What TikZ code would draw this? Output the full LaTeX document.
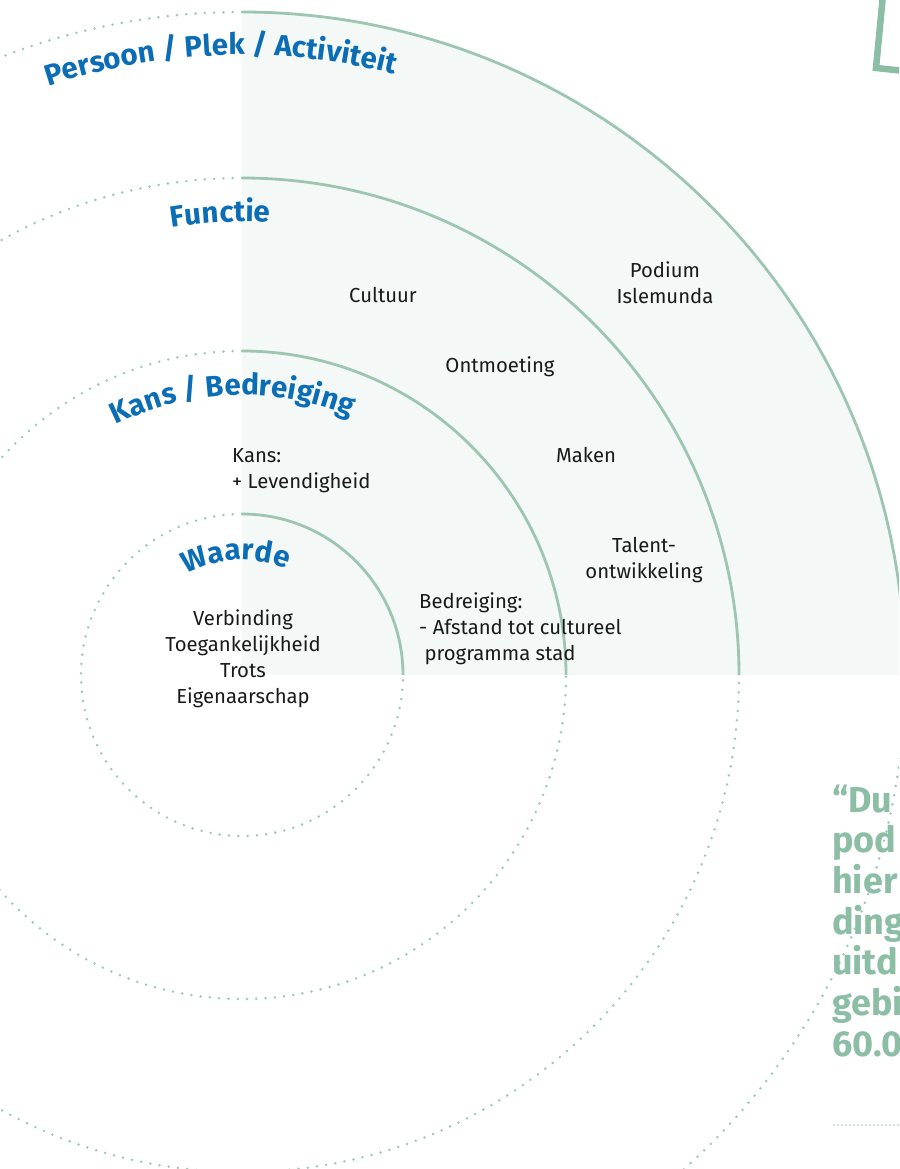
\documentclass[tikz,border=0pt]{standalone}
\usepackage{fontspec}
\setmainfont{Fira Sans}
\usetikzlibrary{decorations.text}
\definecolor{ringfill}{HTML}{F4F8F6}
\definecolor{ringline}{HTML}{9DC6B2}
\definecolor{dotc}{HTML}{9FC8B4}
\definecolor{lblblue}{HTML}{0A6DB6}
\definecolor{quotegreen}{HTML}{8CBEA5}
\definecolor{bodyc}{HTML}{1A1A1A}
\newcommand{\lblfont}{\fontsize{29.5}{32}\selectfont\bfseries\color{lblblue}}
\begin{document}
\begin{tikzpicture}[x=1pt,y=1pt,
  ringarc/.style={draw=ringline,line width=2.8pt},
  ringdots/.style={draw=dotc,line width=2.8pt,line cap=round,dash pattern=on 0pt off 9.3pt},
  bodytxt/.style={inner sep=0pt,text=bodyc,font=\fontsize{20.3}{26}\selectfont},
  quotetxt/.style={inner sep=0pt,text=quotegreen,font=\fontsize{36}{40.7}\selectfont\bfseries,anchor=base west},
  curvelbl/.style={decorate,decoration={text along path,text align=center,text={#1}}}
]
\useasboundingbox (0,0) rectangle (899,-1169);
\clip (0,0) rectangle (899,-1169);
\coordinate (C) at (242,-675);

% filled quarter disk
\fill[ringfill] (C) -- ++(663,0) arc[start angle=0,end angle=90,radius=663] -- cycle;

% dotted remainder of circles
\foreach \r in {161,324,497,663}{
  \path[ringdots] ([shift={(90:\r)}]C) arc[start angle=90,end angle=360,radius=\r];
}
% solid quarter arcs
\foreach \r in {161,324,497,663}{
  \path[ringarc] ([shift={(0:\r)}]C) arc[start angle=0,end angle=90,radius=\r];
}

% curved labels
\path[curvelbl={|\lblfont|Persoon / Plek / Activiteit}] ([shift={(152:620)}]C) arc[start angle=152,end angle=32,radius=620];
\path[curvelbl={|\lblfont|Functie}] ([shift={(152.7:453)}]C) arc[start angle=152.7,end angle=32.7,radius=453];
\path[curvelbl={|\lblfont|Kans / Bedreiging}] ([shift={(152:280)}]C) arc[start angle=152,end angle=32,radius=280];
\path[curvelbl={|\lblfont|Waarde}] ([shift={(153:115)}]C) arc[start angle=153,end angle=33,radius=115];

% body texts
\node[bodytxt] (cultuur) at (383,-295) {Cultuur};
\node[bodytxt,align=center] (podium) at (665,-283) {Podium\\Islemunda};
\node[bodytxt] (ontmoeting) at (500,-367) {Ontmoeting};
\node[bodytxt] (maken) at (586,-455) {Maken};
\node[bodytxt,align=center] (talent) at (644,-560) {Talent-\\ontwikkeling};
\node[bodytxt,align=left,anchor=west] (kans) at (232,-471) {Kans:\\+ Levendigheid};
\node[bodytxt,align=left,anchor=west] (bedreiging) at (419,-629) {Bedreiging:\\- Afstand tot cultureel\\\ programma stad};
\node[bodytxt,align=center] (waarde) at (243,-659) {Verbinding\\Toegankelijkheid\\Trots\\Eigenaarschap};

% top-right frame fragment
\draw[draw=quotegreen,line width=6.5pt] (883,5) -- (876,-68) -- (905,-71);

% quote fragment
\node[quotetxt] (q1) at (832,-812) {“Du};
\node[quotetxt] (q2) at (832,-852.7) {pod};
\node[quotetxt] (q3) at (832,-893.4) {hier};
\node[quotetxt] (q4) at (832,-934.1) {ding};
\node[quotetxt] (q5) at (832,-974.8) {uitd};
\node[quotetxt] (q6) at (832,-1015.5) {gebi};
\node[quotetxt] (q7) at (832,-1056.2) {60.0};
\coordinate (rulestart) at (834,-1125);
\coordinate (ruleend) at (905,-1125);
\draw[dotc,line width=1.8pt,line cap=round,dash pattern=on 0pt off 4pt] (rulestart) -- (ruleend);
\end{tikzpicture}
\end{document}
